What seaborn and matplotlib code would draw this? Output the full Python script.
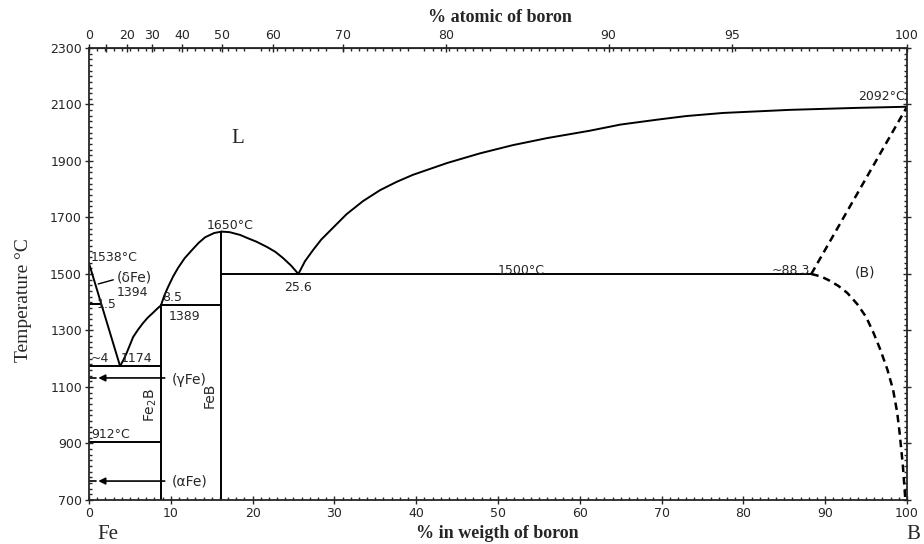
import numpy as np
import pandas as pd
import seaborn as sns
import matplotlib.pyplot as plt

# values (wt% B, temperature in C)
liq_fe_x = [0.0, 3.8]
liq_fe_t = [1538, 1174]
liq_fe2b_x = [3.8, 4.2, 4.6, 5.4, 6.0, 6.6, 7.2, 7.8, 8.3, 8.8]
liq_fe2b_t = [1174, 1195, 1220, 1277, 1303, 1326, 1346, 1362, 1376, 1389]
liq_feb_left_x = [8.8, 9.2, 9.7, 10.3, 10.9, 11.7, 12.6, 13.4, 14.2, 15.3, 16.2]
liq_feb_left_t = [1389, 1423, 1456, 1492, 1522, 1556, 1585, 1610, 1630, 1645, 1650]
liq_feb_right_x = [16.2, 17.2, 18.5, 19.3, 20.5, 21.8, 22.8, 23.7, 24.7, 25.6]
liq_feb_right_t = [1650, 1648, 1638, 1628, 1614, 1595, 1578, 1557, 1530, 1500]
liq_b_x = [25.6, 26.4, 27.4, 28.4, 29.5, 31.5, 33.5, 35.6, 37.6, 39.6, 43.8,
           47.8, 51.8, 56.0, 61.2, 65.0, 69.4, 73.0, 77.5, 85.7, 93.9, 100.0]
liq_b_t = [1500, 1545, 1585, 1622, 1654, 1712, 1758, 1797, 1826, 1851, 1893,
           1927, 1956, 1981, 2007, 2029, 2046, 2059, 2070, 2081, 2088, 2092]
dash_liq_x = [88.3, 100.0]
dash_liq_t = [1500, 2092]
dash_sol_x = [88.3, 89.5, 90.5, 91.6, 92.7, 93.9, 95.0, 95.9, 96.7, 97.6,
              98.3, 98.8, 99.1, 99.5, 99.8]
dash_sol_t = [1500, 1491, 1477, 1458, 1433, 1394, 1348, 1292, 1235, 1162,
              1090, 1010, 937, 820, 700]

fe2b_wt = 8.8
feb_wt = 16.2
iso_1394 = [0.0, 1.5, 1394]
iso_1174 = [0.0, fe2b_wt, 1174]
iso_912 = [0.0, fe2b_wt, 905]
iso_1389 = [fe2b_wt, feb_wt, 1389]
iso_1500 = [feb_wt, 88.3, 1500]

y_ticks = [700, 900, 1100, 1300, 1500, 1700, 1900, 2100, 2300]
x_ticks = [0, 10, 20, 30, 40, 50, 60, 70, 80, 90, 100]
at_ticks = [0, 10, 20, 30, 40, 50, 60, 70, 80, 90, 95, 100]
at_labels = ["0", "", "20", "30", "40", "50", "60", "70", "80", "90", "95", "100"]

M_B, M_FE = 10.81, 55.85


def wt_to_at(w):
    w = np.clip(np.asarray(w, dtype=float), 1e-9, 100 - 1e-9)
    nb = w / M_B
    nf = (100 - w) / M_FE
    return 100 * nb / (nb + nf)


def at_to_wt(a):
    a = np.clip(np.asarray(a, dtype=float), 1e-9, 100 - 1e-9)
    mb = a * M_B
    mf = (100 - a) * M_FE
    return 100 * mb / (mb + mf)


sns.set_style("ticks")
plt.rcParams['font.family'] = ['DejaVu Sans']

fig = plt.figure(figsize=(9.24, 5.44), dpi=100)
ax = fig.add_axes([0.0963, 0.0809, 0.8853, 0.8309])

line_kw = dict(color="black", sort=False, estimator=None, ax=ax)


def draw(xs, ts, lw=1.4, **kw):
    df = pd.DataFrame({"wt": xs, "T": ts})
    sns.lineplot(data=df, x="wt", y="T", linewidth=lw, **line_kw, **kw)


draw(liq_fe_x, liq_fe_t)
draw(liq_fe2b_x, liq_fe2b_t)
draw(liq_feb_left_x, liq_feb_left_t)
draw(liq_feb_right_x, liq_feb_right_t)
draw(liq_b_x, liq_b_t)
draw(dash_liq_x, dash_liq_t, lw=1.8, linestyle=(0, (3, 2)))
draw(dash_sol_x, dash_sol_t, lw=1.8, linestyle=(0, (3, 2)))

for x0, x1, t in [iso_1394, iso_1174, iso_912, iso_1389, iso_1500]:
    draw([x0, x1], [t, t])

# compound lines
draw([fe2b_wt, fe2b_wt], [700, 1389])
draw([feb_wt, feb_wt], [700, 1650])

# arrows to the Fe solid solutions
arrow = dict(arrowstyle="-|>", color="black", lw=1.2, mutation_scale=10)
ax.annotate("", xy=(0.8, 1132), xytext=(9.6, 1132), arrowprops=arrow)
ax.annotate("", xy=(0.8, 767), xytext=(9.6, 767), arrowprops=arrow)
ax.annotate("", xy=(0.8, 1462), xytext=(3.3, 1482),
            arrowprops=dict(arrowstyle="-", color="black", lw=1.0))
draw([0.0, 0.8], [1132, 1132], lw=1.2)
draw([0.0, 0.8], [767, 767], lw=1.2)

fs = 9
ax.text(0.2, 1557, "1538°C", fontsize=fs, va="center")
ax.text(3.4, 1486, "(δFe)", fontsize=fs + 1, va="center")
ax.text(3.4, 1433, "1394", fontsize=fs, va="center")
ax.text(0.9, 1392, "1.5", fontsize=fs, va="center")
ax.text(9.0, 1392, "8.5", fontsize=fs, va="bottom")
ax.text(9.8, 1351, "1389", fontsize=fs, va="center")
ax.text(0.2, 1177, "~4", fontsize=fs, va="bottom")
ax.text(3.9, 1177, "1174", fontsize=fs, va="bottom")
ax.text(0.3, 908, "912°C", fontsize=fs, va="bottom")
ax.text(10.1, 1125, "(γFe)", fontsize=fs + 1, va="center")
ax.text(10.1, 767, "(αFe)", fontsize=fs + 1, va="center")
ax.text(7.5, 1036, "Fe$_2$B", fontsize=fs + 1, rotation=90, ha="center", va="center")
ax.text(14.8, 1070, "FeB", fontsize=fs + 1, rotation=90, ha="center", va="center")
ax.text(17.2, 1672, "1650°C", fontsize=fs, ha="center", va="center")
ax.text(25.6, 1452, "25.6", fontsize=fs, ha="center", va="center")
ax.text(52.8, 1514, "1500°C", fontsize=fs, ha="center", va="center")
ax.text(88.2, 1512, "~88.3", fontsize=fs, ha="right", va="center")
ax.text(94.9, 1507, "(B)", fontsize=fs + 1, ha="center", va="center")
ax.text(99.8, 2105, "2092°C", fontsize=fs, ha="right", va="bottom")
ax.text(18.2, 1981, "L", fontsize=15, family="Liberation Serif",
        ha="center", va="center")
ax.text(2.3, 578, "Fe", fontsize=15, family="Liberation Serif",
        ha="center", va="center", clip_on=False)
ax.text(100.8, 578, "B", fontsize=15, family="Liberation Serif",
        ha="center", va="center", clip_on=False)

ax.set_xlim(0, 100)
ax.set_ylim(700, 2300)
ax.set_xticks(x_ticks)
ax.set_yticks(y_ticks)
ax.set_xticks(np.arange(0, 101, 1), minor=True)
ax.set_yticks(np.arange(700, 2301, 20), minor=True)
ax.tick_params(which="major", direction="inout", length=6, width=1,
               labelsize=9, top=False, right=True, pad=2)
ax.tick_params(which="minor", direction="in", length=2.5, width=1,
               top=True, right=True)
ax.set_xlabel("")
ax.set_ylabel("")
for s in ax.spines.values():
    s.set_linewidth(1.3)

top = ax.secondary_xaxis("top", functions=(wt_to_at, at_to_wt))
top.set_xticks(at_ticks)
top.set_xticklabels(at_labels)
top.tick_params(direction="inout", length=6, width=1, labelsize=9, pad=1)

fig.text(497 / 924, 1 - 533 / 544, "% in weigth of boron", fontsize=13,
         family="Liberation Serif", weight="bold", ha="center", va="center")
fig.text(500 / 924, 1 - 17 / 544, "% atomic of boron", fontsize=13,
         family="Liberation Serif", weight="bold", ha="center", va="center")
fig.text(24 / 924, 1 - 300 / 544, "Temperature °C", fontsize=14,
         family="Liberation Serif", rotation=90, ha="center", va="center")

fig.savefig("out.png", dpi=100)
plt.close(fig)
